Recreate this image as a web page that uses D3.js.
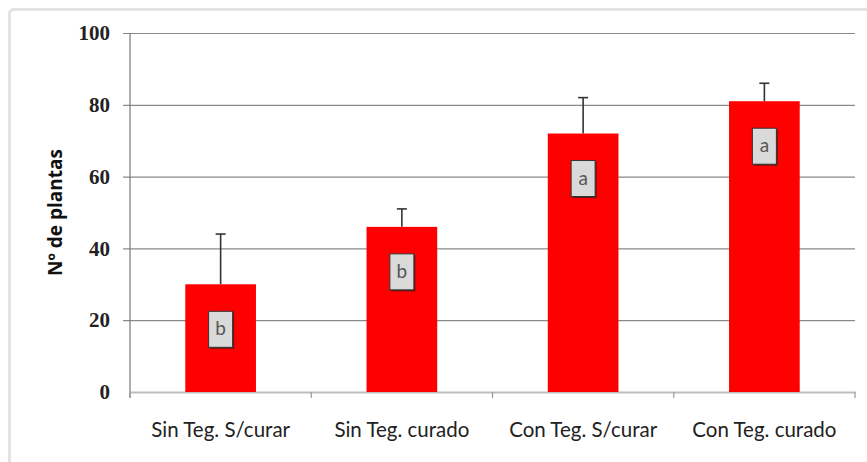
<!DOCTYPE html>
<html>
<head>
<meta charset="utf-8">
<script src="https://cdn.jsdelivr.net/npm/d3@7"></script>
<style>
  html, body { margin: 0; padding: 0; background: #fff; }
  svg { display: block; }
</style>
</head>
<body>
<svg id="chart" width="867" height="462"></svg>
<script>
// Plants per treatment: mean, upper error (SD) and significance letter
const categories = ["Sin Teg. S/curar", "Sin Teg. curado", "Con Teg. S/curar", "Con Teg. curado"];
const means = [30, 46, 72, 81];
const errors = [14, 5, 10, 5];
const letters = ["b", "b", "a", "a"];
const yTicks = [0, 20, 40, 60, 80, 100];
const yTitle = "Nº de plantas";

const svg = d3.select("#chart");
const plot = { left: 130, right: 855, top: 33, bottom: 392 };

// Outer chart frame
svg.append("rect")
  .attr("x", 9.5).attr("y", 9.5)
  .attr("width", 880).attr("height", 480)
  .attr("rx", 4)
  .attr("fill", "#fff")
  .attr("stroke", "#e3e3e3")
  .attr("stroke-width", 3);

const x = d3.scaleBand()
  .domain(categories)
  .range([plot.left, plot.right])
  .padding(0);

const y = d3.scaleLinear()
  .domain([0, 100])
  .range([plot.bottom, plot.top]);

const barW = x.bandwidth() * 0.39;

// Horizontal gridlines with short ticks left of the axis
const yAxis = d3.axisLeft(y)
  .tickValues(yTicks)
  .tickSize(-(plot.right - plot.left))
  .tickPadding(20)
  .tickFormat(d3.format("d"));

const gy = svg.append("g")
  .attr("transform", `translate(${plot.left},0)`)
  .call(yAxis);
gy.select(".domain").remove();
gy.selectAll(".tick line")
  .attr("x1", -7)
  .attr("stroke", "#8a8a8a")
  .attr("stroke-width", 1.2);
gy.selectAll(".tick").filter(d => d === 0).select("line").attr("stroke", "none");
gy.selectAll(".tick text")
  .attr("x", -20)
  .attr("font-family", "'Liberation Serif', 'DejaVu Serif', serif")
  .attr("font-weight", "bold")
  .attr("font-size", 21)
  .attr("fill", "#222");

// Vertical axis line
svg.append("line")
  .attr("x1", plot.left).attr("x2", plot.left)
  .attr("y1", plot.top).attr("y2", plot.bottom + 6)
  .attr("stroke", "#777")
  .attr("stroke-width", 1.2);

// Category axis
const xAxis = d3.axisBottom(x).tickSize(0).tickPadding(30);
const gx = svg.append("g")
  .attr("transform", `translate(0,${plot.bottom})`)
  .call(xAxis);
gx.select(".domain")
  .attr("stroke", "#bdbdbd")
  .attr("stroke-width", 2);
gx.selectAll(".tick text")
  .attr("font-family", "Lato, 'Open Sans', sans-serif")
  .attr("font-size", 20.5)
  .attr("fill", "#222");

// Category boundary ticks
const boundaries = categories.map(c => x(c)).concat([plot.right]);
svg.append("g").selectAll("line")
  .data(boundaries)
  .join("line")
  .attr("x1", d => d).attr("x2", d => d)
  .attr("y1", plot.bottom).attr("y2", plot.bottom + 6)
  .attr("stroke", "#999")
  .attr("stroke-width", 1.2);

// Y axis title
svg.append("text")
  .attr("transform", `translate(62,${(plot.top + plot.bottom) / 2}) rotate(-90)`)
  .attr("text-anchor", "middle")
  .attr("font-family", "'Open Sans', 'Liberation Sans', sans-serif")
  .attr("font-weight", "bold")
  .attr("font-size", 19)
  .attr("fill", "#111")
  .text(yTitle);

const cx = c => x(c) + x.bandwidth() / 2;

// Error bars (upper only)
const eb = svg.append("g");
categories.forEach((c, i) => {
  eb.append("line")
    .attr("x1", cx(c)).attr("x2", cx(c))
    .attr("y1", y(means[i])).attr("y2", y(means[i] + errors[i]))
    .attr("stroke", "#333").attr("stroke-width", 1.6);
  eb.append("line")
    .attr("x1", cx(c) - 5).attr("x2", cx(c) + 5)
    .attr("y1", y(means[i] + errors[i])).attr("y2", y(means[i] + errors[i]))
    .attr("stroke", "#333").attr("stroke-width", 1.6);
});

// Bars
svg.append("g").selectAll("rect")
  .data(categories)
  .join("rect")
  .attr("x", c => cx(c) - barW / 2)
  .attr("y", (c, i) => y(means[i]))
  .attr("width", barW)
  .attr("height", (c, i) => y(0) - y(means[i]))
  .attr("fill", "#fe0000");

// Significance letter boxes
const boxW = 24, boxH = 36, boxGap = 27;
const lb = svg.append("g").selectAll("g")
  .data(categories)
  .join("g")
  .attr("transform", (c, i) => `translate(${cx(c) - boxW / 2},${y(means[i]) + boxGap})`);
lb.append("rect")
  .attr("x", 1.5).attr("y", 1.5)
  .attr("width", boxW).attr("height", boxH)
  .attr("fill", "#6a1515");
lb.append("rect")
  .attr("width", boxW).attr("height", boxH)
  .attr("fill", "#dadada")
  .attr("stroke", "#333")
  .attr("stroke-width", 1);
lb.append("text")
  .attr("x", boxW / 2).attr("y", boxH / 2 + 6)
  .attr("text-anchor", "middle")
  .attr("font-family", "Lato, 'Open Sans', sans-serif")
  .attr("font-size", 19)
  .attr("fill", "#555")
  .text((c, i) => letters[i]);
</script>
</body>
</html>
